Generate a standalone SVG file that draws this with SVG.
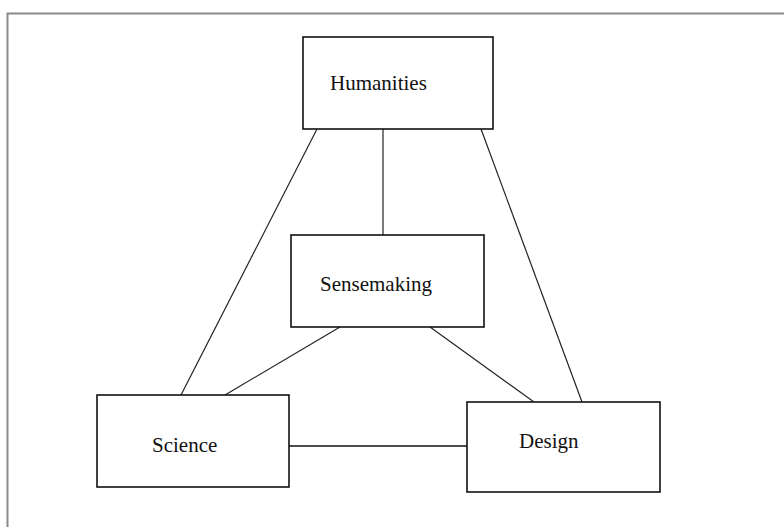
<svg xmlns="http://www.w3.org/2000/svg" width="784" height="527" viewBox="0 0 784 527">
  <style>
    .box { fill: #ffffff; stroke: #111111; stroke-width: 1.6; }
    .lbl { font-family: "Liberation Serif", "Times New Roman", serif; font-size: 21px; fill: #111111; }
    .con { stroke: #222222; stroke-width: 1.2; fill: none; }
    .con-h { stroke: #111111; stroke-width: 1.5; fill: none; }
  </style>
  <rect x="0" y="0" width="784" height="527" fill="#ffffff"/>
  <rect x="7.5" y="13.5" width="800" height="600" fill="none" stroke="#8a8a8a" stroke-width="2"/>
  <g id="connectors">
    <line class="con" x1="317" y1="129" x2="181" y2="395"/>
    <line class="con" x1="383" y1="129" x2="383" y2="235"/>
    <line class="con" x1="481" y1="129" x2="582" y2="402"/>
    <line class="con" x1="340" y1="327" x2="225" y2="395"/>
    <line class="con" x1="430" y1="327" x2="534" y2="402"/>
    <line class="con-h" x1="289" y1="446" x2="467" y2="446"/>
  </g>
  <g id="humanities">
    <rect class="box" x="303" y="37" width="190" height="92"/>
    <text class="lbl" x="330" y="90">Humanities</text>
  </g>
  <g id="sensemaking">
    <rect class="box" x="291" y="235" width="193" height="92"/>
    <text class="lbl" x="320" y="291">Sensemaking</text>
  </g>
  <g id="science">
    <rect class="box" x="97" y="395" width="192" height="92"/>
    <text class="lbl" x="152" y="452">Science</text>
  </g>
  <g id="design">
    <rect class="box" x="467" y="402" width="193" height="90"/>
    <text class="lbl" x="519" y="448">Design</text>
  </g>
</svg>
